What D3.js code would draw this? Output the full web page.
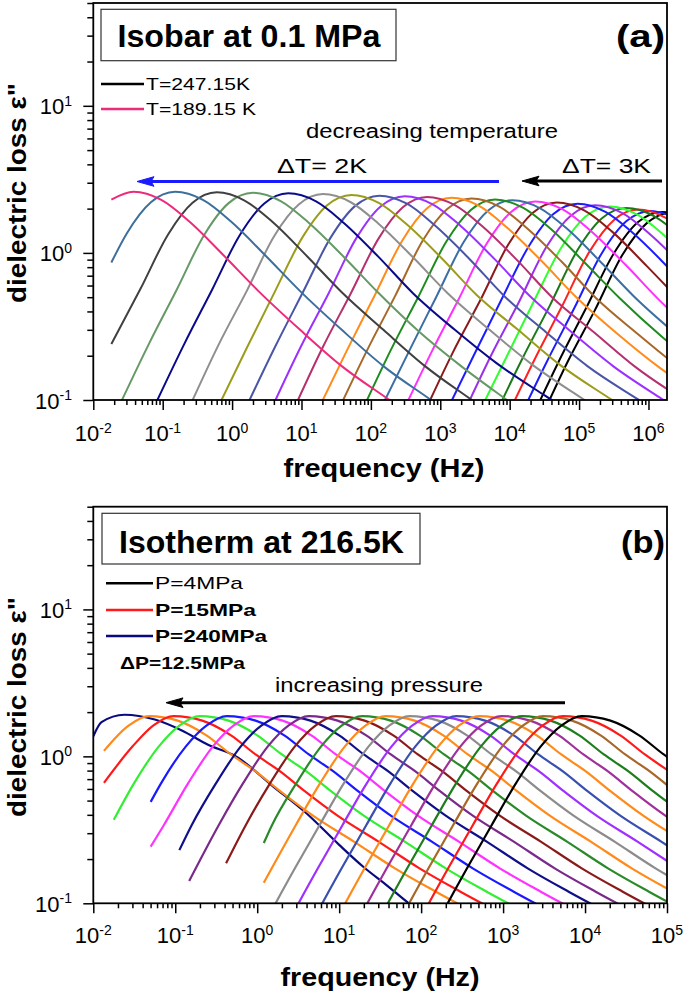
<!DOCTYPE html>
<html><head><meta charset="utf-8">
<script src="https://cdn.jsdelivr.net/npm/d3@7"></script>
<style>body{margin:0;background:#fff}svg{display:block}text{font-family:"Liberation Sans",Arial,sans-serif;fill:#000}</style>
</head><body>
<script>
// ---------------- DATA ----------------
// x tick exponents (10^n Hz) and y tick exponents
const xTickExpA = [-2,-1,0,1,2,3,4,5,6];
const xTickExpB = [-2,-1,0,1,2,3,4,5];
const yTickExp = [-1,0,1];

// Panel (a): isobar 0.1 MPa, curves from T=189.15 K (index 0) to T=247.15 K (last)
// each point: [log10(frequency / Hz), dielectric loss]
const colorsA = ["#ee2a7b","#3d6f9c","#404040","#669966","#0a0a8a","#8f8f8f","#9c9c1c","#4a55a8",
  "#9b30ff","#b5306e","#ff8c1a","#a8682a","#1e8c1e","#3a6ea5","#ff30ff","#8b1a1a",
  "#1c1cff","#9b30e8","#30ff30","#1a7a1a","#ff2020","#1c1cff","#000000","#000000"];
const curvesA = [
 [[-1.74,2.3],[-1.42,2.6],[-1.02,2.29],[-0.62,1.64],[-0.12,0.96],[0.38,0.55],[0.98,0.30],[1.58,0.17],[2.28,0.099],[2.98,0.057]],
 [[-1.74,0.86],[-1.52,1.35],[-1.17,2.21],[-0.82,2.6],[-0.42,2.29],[-0.02,1.64],[0.48,0.96],[0.98,0.55],[1.58,0.30],[2.18,0.17],[2.88,0.099],[3.58,0.057]],
 [[-1.74,0.24],[-1.32,0.57],[-0.92,1.34],[-0.57,2.19],[-0.22,2.58],[0.18,2.27],[0.58,1.63],[1.08,0.95],[1.58,0.54],[2.18,0.30],[2.78,0.17],[3.48,0.098],[4.18,0.057]],
 [[-1.6,0.097],[-1.2,0.24],[-0.8,0.56],[-0.4,1.33],[-0.05,2.18],[0.30,2.56],[0.70,2.25],[1.10,1.61],[1.60,0.95],[2.10,0.54],[2.70,0.29],[3.30,0.17],[4.00,0.097],[4.70,0.056]],
 [[-1.09,0.097],[-0.69,0.24],[-0.29,0.56],[0.11,1.32],[0.46,2.16],[0.81,2.54],[1.21,2.24],[1.61,1.6],[2.11,0.94],[2.61,0.53],[3.21,0.30],[3.81,0.178],[4.51,0.107],[5.21,0.066]],
 [[-0.59,0.095],[-0.19,0.24],[0.21,0.55],[0.61,1.31],[0.96,2.13],[1.31,2.51],[1.71,2.21],[2.11,1.58],[2.61,0.93],[3.11,0.53],[3.71,0.30],[4.31,0.176],[5.01,0.105],[5.71,0.065]],
 [[-0.18,0.094],[0.22,0.23],[0.62,0.55],[1.02,1.29],[1.37,2.11],[1.72,2.48],[2.12,2.18],[2.52,1.56],[3.02,0.92],[3.52,0.52],[4.12,0.30],[4.72,0.174],[5.42,0.104],[6.12,0.064]],
 [[0.22,0.093],[0.62,0.23],[1.02,0.54],[1.42,1.27],[1.77,2.08],[2.12,2.45],[2.52,2.16],[2.92,1.54],[3.42,0.91],[3.92,0.51],[4.52,0.29],[5.12,0.17],[5.82,0.103],[6.52,0.064]],
 [[0.59,0.092],[0.99,0.23],[1.39,0.53],[1.79,1.26],[2.14,2.07],[2.49,2.43],[2.89,2.14],[3.29,1.53],[3.79,0.90],[4.29,0.51],[4.89,0.29],[5.49,0.17],[6.19,0.102],[6.89,0.063]],
 [[0.91,0.091],[1.31,0.23],[1.71,0.53],[2.11,1.25],[2.46,2.04],[2.81,2.4],[3.21,2.11],[3.61,1.51],[4.11,0.89],[4.61,0.50],[5.21,0.29],[5.81,0.168],[6.51,0.10]],
 [[1.26,0.09],[1.66,0.22],[2.06,0.52],[2.46,1.23],[2.81,2.01],[3.16,2.37],[3.56,2.09],[3.96,1.49],[4.46,0.88],[4.96,0.50],[5.56,0.28],[6.16,0.166],[6.86,0.10]],
 [[1.55,0.089],[1.95,0.22],[2.35,0.51],[2.75,1.22],[3.10,1.99],[3.45,2.34],[3.85,2.06],[4.25,1.47],[4.75,0.87],[5.25,0.49],[5.85,0.28],[6.45,0.164]],
 [[1.89,0.088],[2.29,0.22],[2.69,0.51],[3.09,1.20],[3.44,1.96],[3.79,2.31],[4.19,2.03],[4.59,1.46],[5.09,0.85],[5.59,0.49],[6.19,0.27],[6.79,0.16]],
 [[2.14,0.087],[2.54,0.21],[2.94,0.5],[3.34,1.19],[3.69,1.94],[4.04,2.28],[4.44,2.01],[4.84,1.44],[5.34,0.84],[5.84,0.48],[6.44,0.27]],
 [[2.47,0.085],[2.87,0.21],[3.27,0.49],[3.67,1.16],[4.02,1.90],[4.37,2.24],[4.77,1.97],[5.17,1.41],[5.67,0.83],[6.17,0.47],[6.77,0.26]],
 [[2.78,0.084],[3.18,0.21],[3.58,0.48],[3.98,1.14],[4.33,1.87],[4.68,2.2],[5.08,1.94],[5.48,1.39],[5.98,0.81],[6.48,0.46]],
 [[3.08,0.082],[3.48,0.2],[3.88,0.48],[4.28,1.12],[4.63,1.84],[4.98,2.16],[5.38,1.9],[5.78,1.36],[6.28,0.8],[6.78,0.45]],
 [[3.33,0.08],[3.73,0.2],[4.13,0.46],[4.53,1.10],[4.88,1.79],[5.23,2.11],[5.63,1.86],[6.03,1.33],[6.53,0.78]],
 [[3.54,0.079],[3.94,0.19],[4.34,0.46],[4.74,1.08],[5.09,1.76],[5.44,2.07],[5.84,1.82],[6.24,1.3],[6.74,0.77]],
 [[3.78,0.077],[4.18,0.19],[4.58,0.44],[4.98,1.05],[5.33,1.72],[5.68,2.02],[6.08,1.78],[6.48,1.27]],
 [[3.95,0.075],[4.35,0.185],[4.75,0.43],[5.15,1.02],[5.50,1.67],[5.85,1.97],[6.25,1.73],[6.65,1.24]],
 [[4.13,0.073],[4.53,0.18],[4.93,0.42],[5.33,1.00],[5.68,1.64],[6.03,1.93],[6.43,1.7]],
 [[4.30,0.072],[4.70,0.18],[5.10,0.42],[5.50,0.99],[5.85,1.62],[6.20,1.9],[6.60,1.67]],
 [[4.43,0.071],[4.83,0.18],[5.23,0.41],[5.63,0.98],[5.98,1.60],[6.33,1.88],[6.73,1.65]]
];
const legendA = [{label:"T=247.15K", color:"#000000", bold:false},{label:"T=189.15 K", color:"#ee2a7b", bold:false}];

// Panel (b): isotherm 216.5 K, curves from P=4 MPa (index 0) to P=240 MPa (last)
const colorsB = ["#000000","#ff1a1a","#a8682a","#1e7e1e","#a0309a","#ff8a1a","#3a50b0","#a030ff",
  "#8c8c8c","#ff8a1a","#2a8a2a","#8b1a1a","#7a2a8a","#10108a","#ff33ff","#1a1aff",
  "#33ee33","#ff1a1a","#ff8a1a","#0a0a80"];
const curvesB = [
 [[2.16,0.068],[2.56,0.173],[2.86,0.34],[3.16,0.66],[3.46,1.17],[3.71,1.62],[3.96,1.88],[4.31,1.75],[4.66,1.39],[4.96,1.03],[5.26,0.79]],
 [[1.93,0.068],[2.33,0.173],[2.63,0.34],[2.93,0.66],[3.23,1.17],[3.48,1.62],[3.73,1.88],[4.08,1.75],[4.43,1.39],[4.73,1.03],[5.03,0.79]],
 [[1.69,0.068],[2.09,0.173],[2.39,0.34],[2.69,0.66],[2.99,1.17],[3.24,1.62],[3.49,1.88],[3.84,1.75],[4.19,1.39],[4.49,1.03],[4.79,0.79],[5.09,0.58]],
 [[1.43,0.068],[1.83,0.173],[2.13,0.34],[2.43,0.66],[2.73,1.17],[2.98,1.62],[3.23,1.88],[3.58,1.75],[3.93,1.39],[4.23,1.03],[4.53,0.79],[4.83,0.58],[5.23,0.395]],
 [[1.18,0.068],[1.58,0.173],[1.88,0.34],[2.18,0.66],[2.48,1.17],[2.73,1.62],[2.98,1.88],[3.33,1.75],[3.68,1.39],[3.98,1.03],[4.28,0.79],[4.58,0.58],[4.98,0.395],[5.48,0.263]],
 [[0.91,0.068],[1.31,0.173],[1.61,0.34],[1.91,0.66],[2.21,1.17],[2.46,1.62],[2.71,1.88],[3.06,1.75],[3.41,1.39],[3.71,1.03],[4.01,0.79],[4.31,0.58],[4.71,0.395],[5.21,0.263]],
 [[0.63,0.068],[1.03,0.173],[1.33,0.34],[1.63,0.66],[1.93,1.17],[2.18,1.62],[2.43,1.88],[2.78,1.75],[3.13,1.39],[3.43,1.03],[3.73,0.79],[4.03,0.58],[4.43,0.395],[4.93,0.263],[5.43,0.173]],
 [[0.34,0.068],[0.74,0.173],[1.04,0.34],[1.34,0.66],[1.64,1.17],[1.89,1.62],[2.14,1.88],[2.49,1.75],[2.84,1.39],[3.14,1.03],[3.44,0.79],[3.74,0.58],[4.14,0.395],[4.64,0.263],[5.14,0.173]],
 [[0.06,0.068],[0.46,0.173],[0.76,0.34],[1.06,0.66],[1.36,1.17],[1.61,1.62],[1.86,1.88],[2.21,1.75],[2.56,1.39],[2.86,1.03],[3.16,0.79],[3.46,0.58],[3.86,0.395],[4.36,0.263],[4.86,0.173],[5.36,0.12]],
 [[0.08,0.138],[0.47,0.34],[0.77,0.66],[1.07,1.17],[1.32,1.62],[1.57,1.88],[1.92,1.75],[2.27,1.39],[2.57,1.03],[2.87,0.79],[3.17,0.58],[3.57,0.395],[4.07,0.263],[4.57,0.173],[5.07,0.12]],
 [[0.08,0.257],[0.18,0.34],[0.48,0.66],[0.78,1.17],[1.03,1.62],[1.28,1.88],[1.63,1.75],[1.98,1.39],[2.28,1.03],[2.58,0.79],[2.88,0.58],[3.28,0.395],[3.78,0.263],[4.28,0.173],[4.78,0.12],[5.28,0.085]],
 [[-0.38,0.187],[-0.14,0.34],[0.16,0.66],[0.46,1.17],[0.71,1.62],[0.96,1.88],[1.31,1.75],[1.66,1.39],[1.96,1.03],[2.26,0.79],[2.56,0.58],[2.96,0.395],[3.46,0.263],[3.96,0.173],[4.46,0.12],[4.96,0.085]],
 [[-0.83,0.142],[-0.47,0.34],[-0.17,0.66],[0.13,1.17],[0.38,1.62],[0.63,1.88],[0.98,1.75],[1.33,1.39],[1.63,1.03],[1.93,0.79],[2.23,0.58],[2.63,0.395],[3.13,0.263],[3.63,0.173],[4.13,0.12],[4.63,0.085]],
 [[-0.95,0.23],[-0.8,0.34],[-0.5,0.66],[-0.2,1.17],[0.05,1.62],[0.30,1.88],[0.65,1.75],[1.0,1.39],[1.3,1.03],[1.6,0.79],[1.9,0.58],[2.3,0.395],[2.8,0.263],[3.3,0.173],[3.8,0.12],[4.3,0.085]],
 [[-1.30,0.243],[-1.14,0.34],[-0.84,0.66],[-0.54,1.17],[-0.29,1.62],[-0.04,1.88],[0.31,1.75],[0.66,1.39],[0.96,1.03],[1.26,0.79],[1.56,0.58],[1.96,0.395],[2.46,0.263],[2.96,0.173],[3.46,0.12],[3.96,0.085]],
 [[-1.30,0.49],[-1.17,0.66],[-0.87,1.17],[-0.62,1.62],[-0.37,1.88],[-0.02,1.75],[0.33,1.39],[0.63,1.03],[0.93,0.79],[1.23,0.58],[1.63,0.395],[2.13,0.263],[2.63,0.173],[3.13,0.12],[3.63,0.085]],
 [[-1.75,0.37],[-1.5,0.66],[-1.2,1.17],[-0.95,1.62],[-0.70,1.88],[-0.35,1.75],[0.0,1.39],[0.3,1.03],[0.6,0.79],[0.9,0.58],[1.3,0.395],[1.8,0.263],[2.3,0.173],[2.8,0.12],[3.3,0.085]],
 [[-1.87,0.66],[-1.52,1.17],[-1.27,1.62],[-1.02,1.88],[-0.67,1.75],[-0.32,1.39],[-0.02,1.03],[0.28,0.79],[0.58,0.58],[0.98,0.395],[1.48,0.263],[1.98,0.173],[2.48,0.12],[2.98,0.085]],
 [[-1.87,1.09],[-1.57,1.62],[-1.32,1.88],[-0.97,1.75],[-0.62,1.39],[-0.32,1.03],[-0.02,0.79],[0.28,0.58],[0.68,0.395],[1.18,0.263],[1.68,0.173],[2.18,0.12],[2.68,0.085]],
 [[-2.0,1.37],[-1.9,1.71],[-1.62,1.92],[-1.25,1.78],[-0.92,1.5],[-0.6,1.2],[-0.26,1.0],[0.2,0.62],[0.6,0.41],[1.0,0.25],[1.29,0.178],[1.6,0.13],[1.85,0.1],[2.1,0.08]]
];
const legendB = [{label:"P=4MPa", color:"#000000", bold:false},{label:"P=15MPa", color:"#ff1a1a", bold:true},{label:"P=240MPa", color:"#0a0a80", bold:true}];

// ---------------- DRAW ----------------
const W = 685, H = 998;
const svg = d3.select("body").append("svg").attr("width", W).attr("height", H);
svg.append("rect").attr("width", W).attr("height", H).attr("fill", "#fff");

function addText(g, str, x, y, size, weight, len, anchor){
  const t = g.append("text").attr("x", x).attr("y", y).attr("font-size", size)
    .attr("font-weight", weight || "normal").attr("text-anchor", anchor || "start").text(str);
  if (len) t.attr("textLength", len).attr("lengthAdjust", "spacingAndGlyphs");
  return t;
}
function arrow(g, x1, x2, y, color){
  g.append("line").attr("x1", x1).attr("x2", x2 + 12).attr("y1", y).attr("y2", y)
    .attr("stroke", color).attr("stroke-width", 3);
  g.append("path").attr("d", `M${x2},${y} L${x2+17},${y-4.8} L${x2+14},${y} L${x2+17},${y+4.8} Z`)
    .attr("fill", color).attr("stroke", color).attr("stroke-width", 1);
}

function drawPanel(o){
  const g = svg.append("g");
  const x = d3.scaleLog().domain(o.xDom).range([o.left, o.right]);
  const y = d3.scaleLog().domain([0.1, 50]).range([o.bottom, o.top]);
  const clipId = "clip" + o.id;
  g.append("clipPath").attr("id", clipId).append("rect")
    .attr("x", o.left).attr("y", o.top).attr("width", o.right - o.left).attr("height", o.bottom - o.top);

  const line = d3.line().x(d => x(Math.pow(10, d[0]))).y(d => y(d[1])).curve(d3.curveMonotoneX);
  const cg = g.append("g").attr("clip-path", `url(#${clipId})`);
  const order = d3.range(o.curves.length).reverse();
  order.forEach(i => {
    cg.append("path").datum(o.curves[i]).attr("d", line).attr("fill", "none")
      .attr("stroke", o.colors[i]).attr("stroke-width", o.lw).attr("stroke-linejoin", "round");
  });

  const xMajor = o.xTicks.map(e => Math.pow(10, e));
  const xMinor = [];
  o.xTicks.forEach(e => { for (let m = 2; m <= 9; m++) { const v = m * Math.pow(10, e); if (v <= o.xDom[1]) xMinor.push(v); } });
  const yMajor = yTickExp.map(e => Math.pow(10, e));
  const yMinor = [];
  yTickExp.forEach(e => { for (let m = 2; m <= 9; m++) { const v = m * Math.pow(10, e); if (v <= 50) yMinor.push(v); } });

  [d3.axisBottom(x).tickValues(xMinor).tickSize(5), d3.axisBottom(x).tickValues(xMajor).tickSize(10)].forEach(a => {
    const s = g.append("g").attr("transform", `translate(0,${o.bottom})`).call(a.tickFormat(""));
    s.select(".domain").remove();
    s.selectAll("line").attr("stroke", "#000").attr("stroke-width", 1.5);
  });
  [d3.axisLeft(y).tickValues(yMinor).tickSize(6), d3.axisLeft(y).tickValues(yMajor).tickSize(10)].forEach(a => {
    const s = g.append("g").attr("transform", `translate(${o.left},0)`).call(a.tickFormat(""));
    s.select(".domain").remove();
    s.selectAll("line").attr("stroke", "#000").attr("stroke-width", 1.5);
  });

  g.append("rect").attr("x", o.left).attr("y", o.top).attr("width", o.right - o.left).attr("height", o.bottom - o.top)
    .attr("fill", "none").attr("stroke", "#000").attr("stroke-width", 1.8);

  o.xTicks.forEach(e => {
    const t = g.append("text").attr("x", x(Math.pow(10, e))).attr("y", o.bottom + o.xLabDy)
      .attr("text-anchor", "middle").attr("font-size", 22);
    t.append("tspan").text("10");
    t.append("tspan").attr("font-size", 14).attr("dy", -8.5).text(e);
  });
  yTickExp.forEach(e => {
    const t = g.append("text").attr("x", 72).attr("y", y(Math.pow(10, e)) + 8.5)
      .attr("text-anchor", "end").attr("font-size", 22);
    t.append("tspan").text("10");
    t.append("tspan").attr("font-size", 14).attr("dy", -8.5).text(e);
  });

  addText(g, "frequency (Hz)", o.xTitleX, o.xTitleY, 25, "bold", o.xTitleLen, "middle");
  g.append("text").attr("transform", `translate(26,${o.yTitleY}) rotate(-90)`)
    .attr("text-anchor", "middle").attr("font-size", 26).attr("font-weight", "bold")
    .attr("textLength", 220).attr("lengthAdjust", "spacingAndGlyphs").text('dielectric loss \u03b5"');

  g.append("rect").attr("x", o.box[0]).attr("y", o.box[1]).attr("width", o.box[2]).attr("height", o.box[3])
    .attr("fill", "#fff").attr("stroke", "#333").attr("stroke-width", 1.2);
  addText(g, o.title, o.titleX, o.titleY, 31, "bold", o.titleLen);
  addText(g, o.tag, o.tagX, o.titleY, 31, "bold", o.tagLen);

  o.legend.forEach((d, i) => {
    const ly = o.legY[i];
    g.append("line").attr("x1", o.legX1).attr("x2", o.legX2).attr("y1", ly).attr("y2", ly)
      .attr("stroke", d.color).attr("stroke-width", 2.6);
    addText(g, d.label, o.legX2 + 2, ly + 6, 17, d.bold ? "bold" : "normal", o.legLen[i]);
  });
  return g;
}

const gA = drawPanel({
  id: "a", left: 93.3, right: 667, top: 3, bottom: 400, xDom: [1e-2, Math.pow(10, 6.267)],
  xTicks: xTickExpA, curves: curvesA, colors: colorsA, lw: 2,
  xLabDy: 41, xTitleX: 384, xTitleY: 477, xTitleLen: 201, yTitleY: 193,
  box: [101, 9.3, 295, 51.4], title: "Isobar at 0.1 MPa", titleX: 117.5, titleY: 46.7, titleLen: 263,
  tag: "(a)", tagX: 616, tagLen: 49,
  legend: legendA, legY: [84, 109], legX1: 101, legX2: 144, legLen: [104, 110]
});
addText(gA, "decreasing temperature", 306, 138, 20, "normal", 252);
addText(gA, "\u0394T= 2K", 277, 173, 20, "normal", 90);
addText(gA, "\u0394T= 3K", 562, 173, 20, "normal", 89);
arrow(gA, 499, 137, 181.5, "#1a1aff");
arrow(gA, 662, 522, 181, "#000");

const gB = drawPanel({
  id: "b", left: 93.3, right: 667, top: 506.7, bottom: 903.3, xDom: [1e-2, 1e5],
  xTicks: xTickExpB, curves: curvesB, colors: colorsB, lw: 2.2,
  xLabDy: 40, xTitleX: 380, xTitleY: 986, xTitleLen: 199, yTitleY: 707,
  box: [102, 513.3, 318, 50.7], title: "Isotherm at 216.5K", titleX: 119, titleY: 553, titleLen: 285,
  tag: "(b)", tagX: 621, tagLen: 44,
  legend: legendB, legY: [583.3, 610, 636], legX1: 106, legX2: 153, legLen: [88, 101, 112]
});
addText(gB, "\u0394P=12.5MPa", 120, 669, 17, "bold", 125);
addText(gB, "increasing pressure", 275, 692, 20, "normal", 208);
arrow(gB, 565, 166, 702.7, "#000");
</script>
</body></html>
